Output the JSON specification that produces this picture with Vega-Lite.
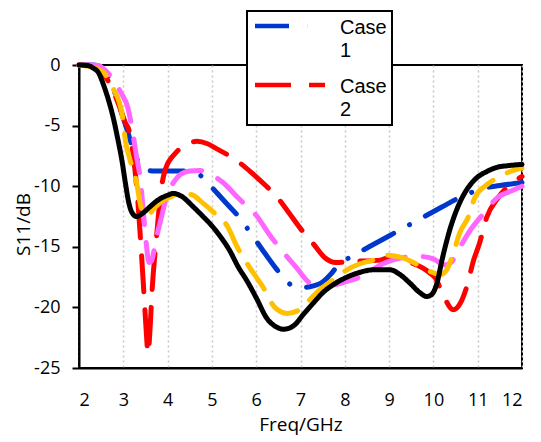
{
  "$schema": "https://vega.github.io/schema/vega-lite/v6.json",
  "width": 443,
  "height": 303,
  "autosize": {"type": "none"},
  "padding": {"left": 79, "top": 65, "right": 19, "bottom": 74},
  "background": "white",
  "config": {
    "view": {"stroke": "black", "strokeWidth": 2},
    "style": {"guide-label": {"dy": -8, "lineHeight": 23}},
    "axis": {
      "labelFont": "Open Sans", "labelFontSize": 18, "labelColor": "black",
      "titleFont": "Open Sans", "titleFontSize": 19, "titleFontWeight": "normal", "titleColor": "black",
      "domainColor": "black", "domainWidth": 2, "tickColor": "black", "tickWidth": 2,
      "gridColor": "#c8c8c8", "gridDash": [2, 3], "gridWidth": 1.5
    },
    "legend": {"strokeWidth": 2}
  },
  "layer": [
    {
      "mark": {"type": "rule", "color": "black", "strokeWidth": 2},
      "encoding": {"y": {"datum": -10, "type": "quantitative"}}
    },
    {
      "data": {"values": [
        {"series":"Case 1","x":2,"y":0},{"series":"Case 1","x":2.3,"y":0},{"series":"Case 1","x":2.45,"y":-0.1},{"series":"Case 1","x":2.6,"y":-0.6},{"series":"Case 1","x":2.8,"y":-2.2},{"series":"Case 1","x":3.0,"y":-4.4},{"series":"Case 1","x":3.1,"y":-5.5},{"series":"Case 1","x":3.25,"y":-7.3},{"series":"Case 1","x":3.4,"y":-8.3},{"series":"Case 1","x":3.55,"y":-8.7},{"series":"Case 1","x":3.7,"y":-8.75},{"series":"Case 1","x":4.0,"y":-8.75},{"series":"Case 1","x":4.3,"y":-8.75},{"series":"Case 1","x":4.6,"y":-8.8},{"series":"Case 1","x":4.8,"y":-9.3},{"series":"Case 1","x":5.0,"y":-10.1},{"series":"Case 1","x":5.3,"y":-11.3},{"series":"Case 1","x":5.6,"y":-12.5},{"series":"Case 1","x":5.9,"y":-14},{"series":"Case 1","x":6.15,"y":-15.3},{"series":"Case 1","x":6.45,"y":-16.8},{"series":"Case 1","x":6.7,"y":-17.9},{"series":"Case 1","x":6.95,"y":-18.4},{"series":"Case 1","x":7.2,"y":-18.3},{"series":"Case 1","x":7.5,"y":-17.9},{"series":"Case 1","x":7.7,"y":-17.2},{"series":"Case 1","x":7.85,"y":-16.5},{"series":"Case 1","x":8.1,"y":-15.9},{"series":"Case 1","x":8.4,"y":-15.3},{"series":"Case 1","x":8.8,"y":-14.5},{"series":"Case 1","x":9.2,"y":-13.7},{"series":"Case 1","x":9.5,"y":-13.1},{"series":"Case 1","x":9.85,"y":-12.4},{"series":"Case 1","x":10.2,"y":-11.7},{"series":"Case 1","x":10.5,"y":-11.1},{"series":"Case 1","x":10.8,"y":-10.6},{"series":"Case 1","x":11.1,"y":-10.2},{"series":"Case 1","x":11.5,"y":-9.95},{"series":"Case 1","x":12,"y":-9.7},

        {"series":"Case 2","x":2,"y":0},{"series":"Case 2","x":2.3,"y":-0.05},{"series":"Case 2","x":2.5,"y":-0.5},{"series":"Case 2","x":2.7,"y":-1.6},{"series":"Case 2","x":2.9,"y":-3.3},{"series":"Case 2","x":3.05,"y":-4.8},{"series":"Case 2","x":3.13,"y":-5.4},{"series":"Case 2","x":3.25,"y":-8.2},{"series":"Case 2","x":3.33,"y":-11.3},{"series":"Case 2","x":3.4,"y":-15},{"series":"Case 2","x":3.46,"y":-18.5},{"series":"Case 2","x":3.51,"y":-21.5},{"series":"Case 2","x":3.56,"y":-23.8},{"series":"Case 2","x":3.6,"y":-22},{"series":"Case 2","x":3.65,"y":-18.6},{"series":"Case 2","x":3.75,"y":-14.2},{"series":"Case 2","x":3.85,"y":-10.4},{"series":"Case 2","x":3.95,"y":-8.6},{"series":"Case 2","x":4.17,"y":-7.3},{"series":"Case 2","x":4.4,"y":-6.6},{"series":"Case 2","x":4.66,"y":-6.3},{"series":"Case 2","x":4.9,"y":-6.5},{"series":"Case 2","x":5.1,"y":-6.9},{"series":"Case 2","x":5.35,"y":-7.4},{"series":"Case 2","x":5.6,"y":-8.0},{"series":"Case 2","x":5.9,"y":-8.9},{"series":"Case 2","x":6.2,"y":-9.9},{"series":"Case 2","x":6.45,"y":-10.8},{"series":"Case 2","x":6.7,"y":-12},{"series":"Case 2","x":7.0,"y":-13.5},{"series":"Case 2","x":7.3,"y":-14.8},{"series":"Case 2","x":7.55,"y":-15.9},{"series":"Case 2","x":7.8,"y":-16.3},{"series":"Case 2","x":8.2,"y":-16.2},{"series":"Case 2","x":8.8,"y":-16.1},{"series":"Case 2","x":9.0,"y":-15.9},{"series":"Case 2","x":9.4,"y":-16.2},{"series":"Case 2","x":9.9,"y":-17.1},{"series":"Case 2","x":10.05,"y":-17.6},{"series":"Case 2","x":10.2,"y":-18.8},{"series":"Case 2","x":10.45,"y":-20.2},{"series":"Case 2","x":10.6,"y":-19.7},{"series":"Case 2","x":10.76,"y":-18.2},{"series":"Case 2","x":10.9,"y":-16.2},{"series":"Case 2","x":11.05,"y":-14.6},{"series":"Case 2","x":11.2,"y":-12.6},{"series":"Case 2","x":11.45,"y":-11},{"series":"Case 2","x":11.75,"y":-9.8},{"series":"Case 2","x":12,"y":-9.2},

        {"series":"Case 3","x":2,"y":0},{"series":"Case 3","x":2.3,"y":0},{"series":"Case 3","x":2.45,"y":-0.05},{"series":"Case 3","x":2.55,"y":-0.3},{"series":"Case 3","x":2.75,"y":-1.1},{"series":"Case 3","x":2.95,"y":-2.3},{"series":"Case 3","x":3.1,"y":-3.5},{"series":"Case 3","x":3.2,"y":-5.3},{"series":"Case 3","x":3.3,"y":-7.6},{"series":"Case 3","x":3.38,"y":-9.3},{"series":"Case 3","x":3.45,"y":-12},{"series":"Case 3","x":3.52,"y":-14.8},{"series":"Case 3","x":3.58,"y":-16.3},{"series":"Case 3","x":3.63,"y":-16.2},{"series":"Case 3","x":3.75,"y":-14.2},{"series":"Case 3","x":3.87,"y":-12.4},{"series":"Case 3","x":4.0,"y":-10.6},{"series":"Case 3","x":4.15,"y":-9.6},{"series":"Case 3","x":4.3,"y":-9.0},{"series":"Case 3","x":4.5,"y":-8.75},{"series":"Case 3","x":4.73,"y":-8.7},{"series":"Case 3","x":4.95,"y":-9.0},{"series":"Case 3","x":5.25,"y":-9.7},{"series":"Case 3","x":5.6,"y":-11},{"series":"Case 3","x":6.0,"y":-12.4},{"series":"Case 3","x":6.3,"y":-14},{"series":"Case 3","x":6.6,"y":-15.4},{"series":"Case 3","x":6.95,"y":-16.9},{"series":"Case 3","x":7.15,"y":-17.8},{"series":"Case 3","x":7.4,"y":-18.3},{"series":"Case 3","x":7.7,"y":-18.2},{"series":"Case 3","x":8.1,"y":-17.8},{"series":"Case 3","x":8.4,"y":-17.4},{"series":"Case 3","x":8.86,"y":-16.4},{"series":"Case 3","x":9.3,"y":-15.9},{"series":"Case 3","x":9.7,"y":-15.8},{"series":"Case 3","x":10.0,"y":-16.0},{"series":"Case 3","x":10.25,"y":-16.5},{"series":"Case 3","x":10.4,"y":-16.3},{"series":"Case 3","x":10.53,"y":-15.5},{"series":"Case 3","x":10.8,"y":-13.8},{"series":"Case 3","x":11.1,"y":-12.4},{"series":"Case 3","x":11.46,"y":-10.9},{"series":"Case 3","x":11.75,"y":-10.4},{"series":"Case 3","x":12,"y":-10.0},

        {"series":"Case 4","x":2,"y":0},{"series":"Case 4","x":2.2,"y":-0.1},{"series":"Case 4","x":2.4,"y":-0.3},{"series":"Case 4","x":2.55,"y":-0.6},{"series":"Case 4","x":2.75,"y":-1.8},{"series":"Case 4","x":2.97,"y":-4.0},{"series":"Case 4","x":3.05,"y":-6.3},{"series":"Case 4","x":3.15,"y":-7.8},{"series":"Case 4","x":3.3,"y":-9.7},{"series":"Case 4","x":3.38,"y":-11.4},{"series":"Case 4","x":3.45,"y":-12.3},{"series":"Case 4","x":3.55,"y":-12.4},{"series":"Case 4","x":3.7,"y":-11.8},{"series":"Case 4","x":3.85,"y":-11.3},{"series":"Case 4","x":4.05,"y":-10.9},{"series":"Case 4","x":4.3,"y":-10.6},{"series":"Case 4","x":4.55,"y":-10.7},{"series":"Case 4","x":4.8,"y":-11.4},{"series":"Case 4","x":5.05,"y":-12.2},{"series":"Case 4","x":5.35,"y":-13.3},{"series":"Case 4","x":5.57,"y":-15},{"series":"Case 4","x":5.85,"y":-16.7},{"series":"Case 4","x":6.15,"y":-18.3},{"series":"Case 4","x":6.42,"y":-20},{"series":"Case 4","x":6.7,"y":-20.5},{"series":"Case 4","x":7.05,"y":-20.0},{"series":"Case 4","x":7.25,"y":-19.2},{"series":"Case 4","x":7.45,"y":-18.5},{"series":"Case 4","x":7.67,"y":-17.9},{"series":"Case 4","x":8.0,"y":-17.0},{"series":"Case 4","x":8.34,"y":-16.4},{"series":"Case 4","x":8.64,"y":-16.1},{"series":"Case 4","x":8.95,"y":-15.7},{"series":"Case 4","x":9.3,"y":-15.9},{"series":"Case 4","x":9.6,"y":-16.4},{"series":"Case 4","x":9.97,"y":-17.1},{"series":"Case 4","x":10.15,"y":-17.3},{"series":"Case 4","x":10.3,"y":-16.9},{"series":"Case 4","x":10.45,"y":-15.5},{"series":"Case 4","x":10.6,"y":-13.8},{"series":"Case 4","x":10.78,"y":-12.6},{"series":"Case 4","x":10.94,"y":-10.9},{"series":"Case 4","x":11.2,"y":-9.9},{"series":"Case 4","x":11.5,"y":-9.2},{"series":"Case 4","x":11.8,"y":-8.7},{"series":"Case 4","x":12,"y":-8.5},

        {"series":"Case 5","x":2,"y":0},{"series":"Case 5","x":2.2,"y":-0.05},{"series":"Case 5","x":2.32,"y":-0.25},{"series":"Case 5","x":2.45,"y":-0.7},{"series":"Case 5","x":2.54,"y":-1.5},{"series":"Case 5","x":2.65,"y":-2.7},{"series":"Case 5","x":2.77,"y":-4.3},{"series":"Case 5","x":2.87,"y":-6.0},{"series":"Case 5","x":2.97,"y":-7.9},{"series":"Case 5","x":3.05,"y":-9.8},{"series":"Case 5","x":3.12,"y":-11.3},{"series":"Case 5","x":3.2,"y":-12.2},{"series":"Case 5","x":3.3,"y":-12.5},{"series":"Case 5","x":3.45,"y":-12.2},{"series":"Case 5","x":3.6,"y":-11.7},{"series":"Case 5","x":3.8,"y":-11.1},{"series":"Case 5","x":4.0,"y":-10.75},{"series":"Case 5","x":4.12,"y":-10.6},{"series":"Case 5","x":4.3,"y":-10.8},{"series":"Case 5","x":4.58,"y":-11.7},{"series":"Case 5","x":4.8,"y":-12.5},{"series":"Case 5","x":4.96,"y":-13.1},{"series":"Case 5","x":5.18,"y":-14.1},{"series":"Case 5","x":5.4,"y":-15.3},{"series":"Case 5","x":5.6,"y":-16.7},{"series":"Case 5","x":5.79,"y":-17.8},{"series":"Case 5","x":6.0,"y":-19.2},{"series":"Case 5","x":6.24,"y":-20.9},{"series":"Case 5","x":6.45,"y":-21.6},{"series":"Case 5","x":6.62,"y":-21.8},{"series":"Case 5","x":6.85,"y":-21.5},{"series":"Case 5","x":7.06,"y":-20.6},{"series":"Case 5","x":7.3,"y":-19.6},{"series":"Case 5","x":7.5,"y":-18.8},{"series":"Case 5","x":7.75,"y":-18.1},{"series":"Case 5","x":8.05,"y":-17.5},{"series":"Case 5","x":8.35,"y":-17.1},{"series":"Case 5","x":8.64,"y":-16.9},{"series":"Case 5","x":9.02,"y":-16.9},{"series":"Case 5","x":9.25,"y":-17.3},{"series":"Case 5","x":9.47,"y":-18.0},{"series":"Case 5","x":9.7,"y":-18.8},{"series":"Case 5","x":9.85,"y":-19.1},{"series":"Case 5","x":9.97,"y":-18.9},{"series":"Case 5","x":10.08,"y":-18.0},{"series":"Case 5","x":10.2,"y":-16.0},{"series":"Case 5","x":10.37,"y":-13.6},{"series":"Case 5","x":10.52,"y":-12.0},{"series":"Case 5","x":10.67,"y":-10.8},{"series":"Case 5","x":10.85,"y":-9.8},{"series":"Case 5","x":10.98,"y":-9.3},{"series":"Case 5","x":11.2,"y":-8.8},{"series":"Case 5","x":11.43,"y":-8.45},{"series":"Case 5","x":11.7,"y":-8.3},{"series":"Case 5","x":12,"y":-8.2}
      ]},
      "mark": {"type": "line", "strokeWidth": 5, "strokeCap": "round", "interpolate": "monotone"},
      "encoding": {
        "x": {
          "field": "x", "type": "quantitative",
          "scale": {"domain": [2, 12], "nice": false, "zero": false},
          "axis": {"values": [2,3,4,5,6,7,8,9,10,11,12], "title": "Freq/GHz", "ticks": false, "labelPadding": 31, "titlePadding": 6, "labelExpr": "'' + datum.value"}
        },
        "y": {
          "field": "y", "type": "quantitative",
          "scale": {"domain": [-25, 0], "nice": false, "zero": false},
          "axis": {"values": [-25,-20,-15,-10,-5,0], "title": "S11/dB", "tickSize": 7, "labelPadding": 12, "labelOffset": 8, "labelExpr": "'' + datum.value", "titleX": -56, "titleY": 159, "titleBaseline": "middle", "titleAngle": -90, "titleAlign": "center"}
        },
        "color": {
          "field": "series", "type": "nominal",
          "scale": {"domain": ["Case 1","Case 2","Case 3","Case 4","Case 5"], "range": ["#0037CC","#FF0000","#FF66FF","#FFC000","#000000"]},
          "legend": {
            "orient": "none", "legendX": 168, "legendY": -54, "values": ["Case 1","Case 2"], "title": null,
            "strokeColor": "black", "fillColor": "white", "padding": 5,
            "symbolType": "M-5,0H5", "symbolSize": 196, "symbolStrokeWidth": 4.5, "symbolOffset": 28,
            "labelFont": "Liberation Sans", "labelFontSize": 20, "labelColor": "black",
            "labelExpr": "split(datum.label, ' ')", "labelBaseline": "top", "labelOffset": 40, "rowPadding": 14
          }
        },
        "strokeDash": {
          "field": "series", "type": "nominal",
          "scale": {"domain": ["Case 1","Case 2","Case 3","Case 4","Case 5"], "range": [[34,18,0.1,18],[36,18],[34,18],[30,16],[1,0]]},
          "legend": {
            "orient": "none", "legendX": 168, "legendY": -54, "values": ["Case 1","Case 2"], "title": null,
            "strokeColor": "black", "fillColor": "white", "padding": 5,
            "symbolType": "M-5,0H5", "symbolSize": 196, "symbolStrokeWidth": 4.5, "symbolOffset": 28,
            "labelFont": "Liberation Sans", "labelFontSize": 20, "labelColor": "black",
            "labelExpr": "split(datum.label, ' ')", "labelBaseline": "top", "labelOffset": 40, "rowPadding": 14
          }
        }
      }
    }
  ]
}
